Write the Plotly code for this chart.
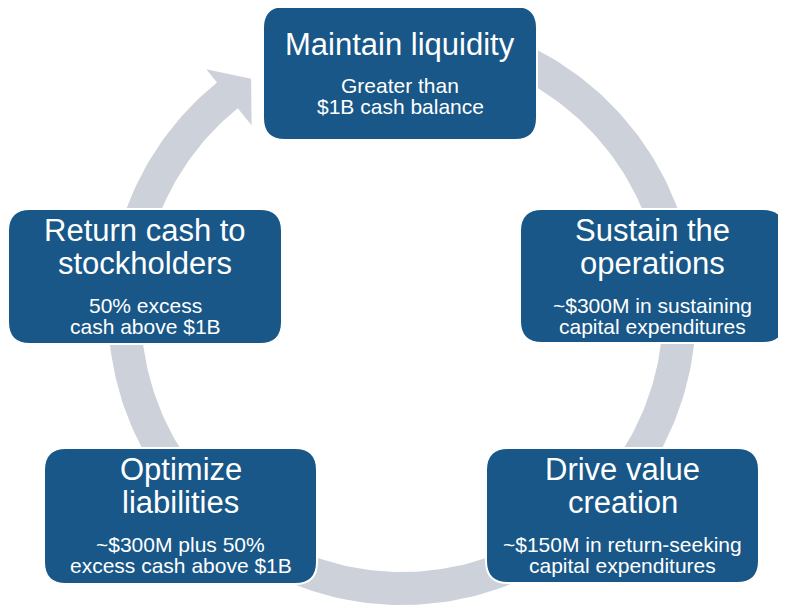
import numpy as np
import plotly.graph_objects as go

# Textos de las cajas
titulos = [
    ["Maintain liquidity"],
    ["Sustain the", "operations"],
    ["Drive value", "creation"],
    ["Optimize", "liabilities"],
    ["Return cash to", "stockholders"],
]
subtitulos = [
    ["Greater than", "$1B cash balance"],
    ["~$300M in sustaining", "capital expenditures"],
    ["~$150M in return-seeking", "capital expenditures"],
    ["~$300M plus 50%", "excess cash above $1B"],
    ["50% excess", "cash above $1B"],
]

# Posición de las cajas (x0, x1, y0, y1) en píxeles
cajas = [
    (263, 537, 6, 140),
    (520, 785, 209, 343),
    (486, 759, 448, 583),
    (44, 317, 448, 584),
    (8, 282, 209, 344),
]

AZUL = '#185787'
GRIS = '#CDD1DA'
FUENTE = 'Liberation Sans, Arial, sans-serif'
W, H = 786, 610
M = 8  # margen del body de la página

fig = go.Figure()

# Anillo con flecha
cx, cy = 402, 311
r_ext, r_int = 294, 261
ang_ini, ang_fin = np.radians(129), np.radians(450)
t = np.linspace(ang_ini, ang_fin, 300)
xs = list(cx + r_ext * np.cos(t)) + list(cx + r_int * np.cos(t[::-1]))
ys = list(cy - r_ext * np.sin(t)) + list(cy - r_int * np.sin(t[::-1]))
# Punta de flecha
a_base, a_punta = np.radians(129), np.radians(123)
xs += [cx + 239 * np.cos(a_base), cx + 277 * np.cos(a_punta), cx + 311 * np.cos(a_base), xs[0]]
ys += [cy - 239 * np.sin(a_base), cy - 277 * np.sin(a_punta), cy - 311 * np.sin(a_base), ys[0]]
fig.add_trace(go.Scatter(x=xs, y=ys, mode='lines', fill='toself', fillcolor=GRIS,
                         line=dict(width=0), hoverinfo='skip', showlegend=False))


def caja_redondeada(x0, x1, y0, y1, r=22):
    return (f'M{x0 + r},{y0} L{x1 - r},{y0} Q{x1},{y0} {x1},{y0 + r} '
            f'L{x1},{y1 - r} Q{x1},{y1} {x1 - r},{y1} L{x0 + r},{y1} '
            f'Q{x0},{y1} {x0},{y1 - r} L{x0},{y0 + r} Q{x0},{y0} {x0 + r},{y0} Z')


for (x0, x1, y0, y1), tit, sub in zip(cajas, titulos, subtitulos):
    fig.add_shape(type='path', path=caja_redondeada(x0, x1, y0, y1),
                  fillcolor=AZUL, line=dict(color='white', width=2), layer='above')
    xc = (x0 + x1) / 2
    if len(tit) == 1:
        bases_t = [y0 + 49]
        bases_s = [y0 + 86, y0 + 107]
    else:
        bases_t = [y0 + 32, y0 + 65]
        bases_s = [y0 + 103, y0 + 124]
    for linea, b in zip(tit, bases_t):
        fig.add_annotation(x=xc, y=b - 0.33 * 31, text=linea, showarrow=False,
                           xanchor='center', yanchor='middle',
                           font=dict(family=FUENTE, size=31, color='white'))
    for linea, b in zip(sub, bases_s):
        fig.add_annotation(x=xc, y=b - 0.33 * 21, text=linea, showarrow=False,
                           xanchor='center', yanchor='middle',
                           font=dict(family=FUENTE, size=21, color='white'))

fig.update_layout(
    width=W - M, height=H - M,
    margin=dict(l=0, r=0, t=0, b=0),
    paper_bgcolor='white', plot_bgcolor='white',
    xaxis=dict(range=[M, W], visible=False, fixedrange=True),
    yaxis=dict(range=[H, M], visible=False, fixedrange=True),
)

fig.write_html('out.html')
